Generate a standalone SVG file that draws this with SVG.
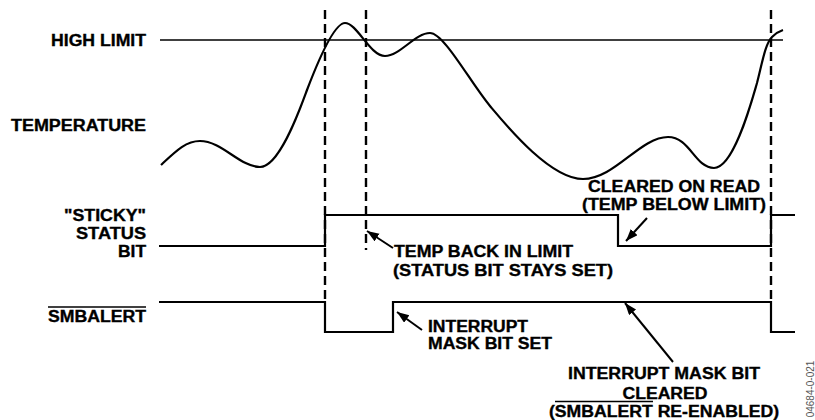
<svg xmlns="http://www.w3.org/2000/svg" width="815" height="420" viewBox="0 0 815 420">
<defs>
<style>
text{font-family:"Liberation Sans",Arial,sans-serif;font-weight:bold;font-size:16px;fill:#000;stroke:#000;stroke-width:0.35px}
.sig{fill:none;stroke:#000;stroke-width:2.2}
.dash{fill:none;stroke:#000;stroke-width:2.4;stroke-dasharray:9,5}
.arr{fill:none;stroke:#000;stroke-width:2;marker-end:url(#ah)}
.ol{stroke:#000;stroke-width:1.5}
.r{text-anchor:end}
.m{text-anchor:middle}
</style>
<marker id="ah" markerUnits="userSpaceOnUse" markerWidth="14" markerHeight="10" refX="12" refY="4.5" orient="auto">
<path d="M0,0 L12,4.5 L0,9 z" fill="#000"/>
</marker>
</defs>
<rect width="815" height="420" fill="#fff"/>

<g id="labels">
<text class="r" x="146" y="46" textLength="95" lengthAdjust="spacingAndGlyphs">HIGH LIMIT</text>
<text class="r" x="146" y="131" textLength="135" lengthAdjust="spacingAndGlyphs">TEMPERATURE</text>
<text class="r" x="146" y="221" textLength="82" lengthAdjust="spacingAndGlyphs">"STICKY"</text>
<text class="r" x="146" y="239" textLength="70" lengthAdjust="spacingAndGlyphs">STATUS</text>
<text class="r" x="146" y="257" textLength="28" lengthAdjust="spacingAndGlyphs">BIT</text>
<text class="r" x="146" y="322" textLength="98" lengthAdjust="spacingAndGlyphs">SMBALERT</text>
<line class="ol" x1="48" y1="307" x2="146" y2="307"/>
</g>

<g id="high-limit">
<line x1="160" y1="40" x2="783" y2="40" stroke="#000" stroke-width="1.6"/>
</g>

<g id="temperature">
<path class="sig" d="M161,165 C176,151 186,141 200,141 C222,141 240,167 260,167 C280,167 301,106 307,90 C315,69 333,23 345,23 C357,23 370,56 385,56 C400,56 415,33 430,33 C444,33 470,82 490,106 C506,125 550,179 583,179 C615,179 640,137 668,137 C690,137 695,168 714,168 C734,168 752,100 757,83 C762,64 765,44 772,37 C776,33 780,31 783,30"/>
</g>

<g id="sticky-status-bit">
<path class="sig" d="M159,246 H325 V215 H618 V246 H771 V215 H795"/>
</g>

<g id="smbalert">
<path class="sig" d="M159,302 H325 V332 H393 V302 H771 V332 H795"/>
</g>

<g id="markers">
<line class="dash" x1="325" y1="10" x2="325" y2="302"/>
<line class="dash" x1="366" y1="10" x2="366" y2="250"/>
<line class="dash" x1="771" y1="10" x2="771" y2="302"/>
</g>

<g id="connectors">
<line class="arr" x1="393" y1="248" x2="367" y2="231"/>
<line class="arr" x1="647" y1="218" x2="626" y2="241"/>
<line class="arr" x1="422" y1="330" x2="397" y2="312"/>
<line class="arr" x1="673" y1="362" x2="625" y2="303"/>
</g>

<g id="note-temp-back">
<text x="394" y="257" textLength="179" lengthAdjust="spacingAndGlyphs">TEMP BACK IN LIMIT</text>
<text x="393" y="276" textLength="220" lengthAdjust="spacingAndGlyphs">(STATUS BIT STAYS SET)</text>
</g>

<g id="note-cleared-on-read">
<text class="m" x="674" y="192" textLength="172" lengthAdjust="spacingAndGlyphs">CLEARED ON READ</text>
<text class="m" x="674" y="210" textLength="184" lengthAdjust="spacingAndGlyphs">(TEMP BELOW LIMIT)</text>
</g>

<g id="note-mask-set">
<text x="428" y="332" textLength="100" lengthAdjust="spacingAndGlyphs">INTERRUPT</text>
<text x="428" y="349" textLength="124" lengthAdjust="spacingAndGlyphs">MASK BIT SET</text>
</g>

<g id="note-mask-cleared">
<text class="m" x="664" y="379" textLength="192" lengthAdjust="spacingAndGlyphs">INTERRUPT MASK BIT</text>
<text class="m" x="665" y="399" textLength="85" lengthAdjust="spacingAndGlyphs">CLEARED</text>
<text class="m" x="664" y="417" textLength="230" lengthAdjust="spacingAndGlyphs">(SMBALERT RE-ENABLED)</text>
<line class="ol" x1="555" y1="401.5" x2="653" y2="401.5"/>
</g>

<g id="figure-id">
<text x="814" y="389" transform="rotate(-90 814 389)" text-anchor="middle" style="font-weight:normal;font-size:10px;fill:#555;stroke:none">04684-0-021</text>
</g>
</svg>
